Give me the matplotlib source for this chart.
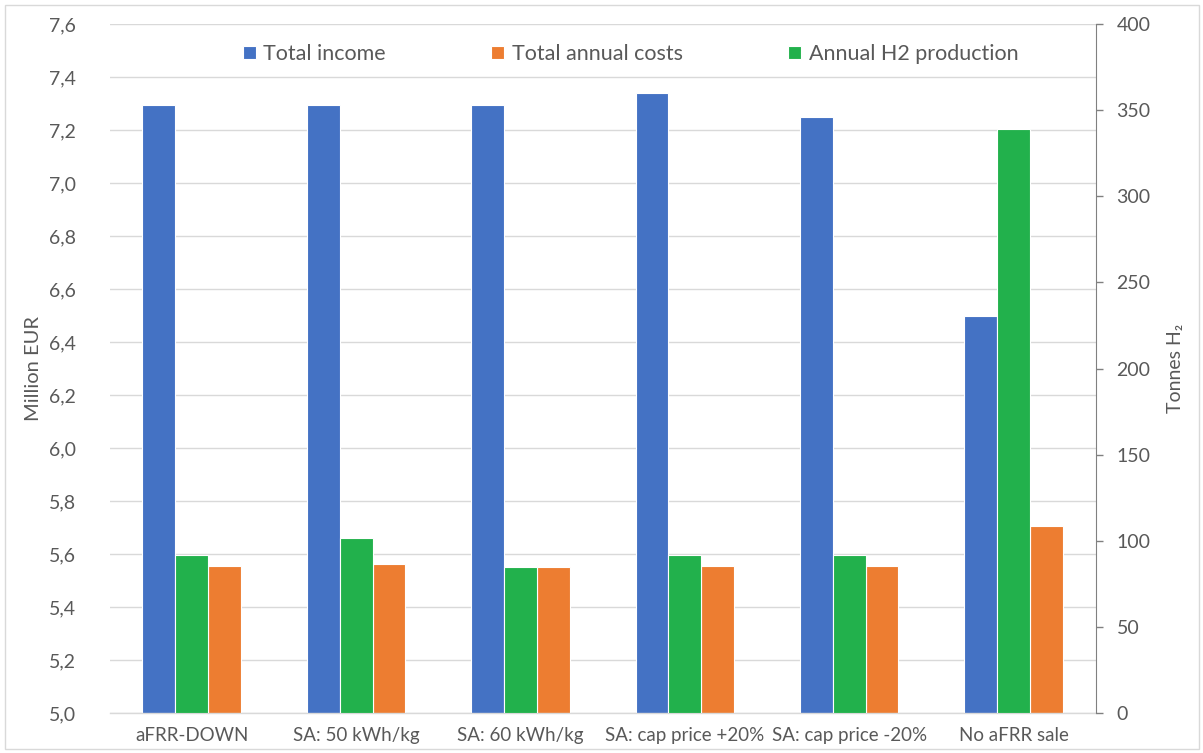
import matplotlib as mpl
mpl.use('Agg')
import matplotlib.pyplot as plt
from matplotlib import ticker
from matplotlib.patches import Rectangle
import numpy as np

scenarios = ["aFRR-DOWN", "SA: 50 kWh/kg", "SA: 60 kWh/kg",
             "SA: cap price +20%", "SA: cap price -20%", "No aFRR sale"]
total_income = [7.295, 7.295, 7.295, 7.34, 7.25, 6.50]      # million EUR
total_costs = [5.555, 5.562, 5.551, 5.555, 5.555, 5.707]    # million EUR
h2_production = [91.7, 101.4, 84.8, 91.7, 91.7, 339.0]      # tonnes H2

BLUE = '#4472C4'
ORANGE = '#ED7D31'
GREEN = '#22B14C'
TXT = '#595959'
GRID = '#D9D9D9'

plt.rcParams['font.family'] = ['Lato', 'DejaVu Sans']

fig = plt.figure(figsize=(12.03, 7.53), dpi=100)
ax = fig.add_axes([0.0911, 0.0531, 0.8197, 0.915])
ax2 = ax.twinx()

x = np.arange(len(scenarios))
w = 0.2
b1 = ax.bar(x - w, total_income, w, color=BLUE, edgecolor='white', linewidth=0.8, label='Total income')
b3 = ax.bar(x + w, total_costs, w, color=ORANGE, edgecolor='white', linewidth=0.8, label='Total annual costs')
b2 = ax2.bar(x, h2_production, w, color=GREEN, edgecolor='white', linewidth=0.8, label='Annual H2 production')

ax.set_xlim(-0.5, len(scenarios) - 0.5)
ax.set_ylim(5.0, 7.6)
ax.yaxis.set_major_locator(ticker.MultipleLocator(0.2))
ax.yaxis.set_major_formatter(ticker.FuncFormatter(lambda v, p: ('%.1f' % v).replace('.', ',')))
ax2.set_ylim(0, 400)
ax2.yaxis.set_major_locator(ticker.MultipleLocator(50))

ax.set_xticks(x)
ax.set_xticklabels(scenarios, fontsize=13.5, color=TXT)
ax.tick_params(axis='x', length=0, pad=10)
ax.tick_params(axis='y', length=0, pad=24, labelsize=14, labelcolor=TXT)
ax2.tick_params(axis='y', length=5, width=1, color='#808080', pad=10, labelsize=14, labelcolor=TXT)

ax.grid(axis='y', color=GRID, linewidth=1)
ax.set_axisbelow(True)
for s in ['top', 'left', 'right']:
    ax.spines[s].set_visible(False)
    ax2.spines[s].set_visible(False)
ax2.spines['bottom'].set_visible(False)
ax.spines['bottom'].set_color(GRID)
ax.spines['bottom'].set_linewidth(1)
ax2.spines['right'].set_visible(True)
ax2.spines['right'].set_color('#808080')

ax.set_ylabel('Million EUR', fontsize=14.5, color=TXT, labelpad=5)
ax2.set_ylabel('Tonnes H\u2082', fontsize=14, color=TXT, rotation=90, labelpad=12)

fig.legend(handles=[b1, b3, b2], loc='center', bbox_to_anchor=(0.524, 0.928), ncol=3,
           frameon=False, fontsize=15.5, labelcolor=TXT, handlelength=0.6, handleheight=0.6,
           handletextpad=0.35, columnspacing=4.9)

# light chart border
fig.patches.append(Rectangle((4.5 / 1203, 4.5 / 753), 1 - 9 / 1203, 1 - 9 / 753,
                             transform=fig.transFigure, fill=False, edgecolor=GRID, linewidth=1))

fig.savefig('out.png', dpi=100)
